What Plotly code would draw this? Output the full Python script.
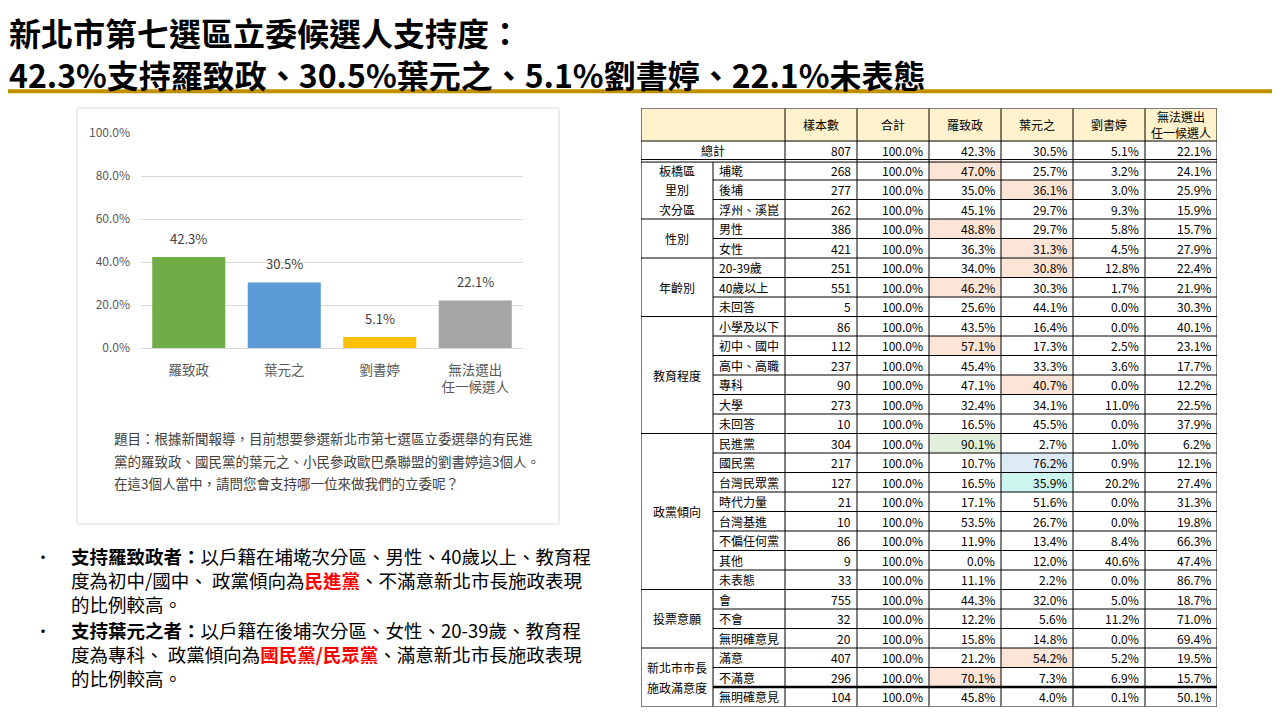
"""新北市第七選區立委候選人支持度 slide, rebuilt with Plotly."""

import plotly.graph_objects as go

# ---- data ---------------------------------------------------------------
candidates = ['羅致政', '葉元之', '劉書婷', '無法選出<br>任一候選人']
support = [42.3, 30.5, 5.1, 22.1]
y_ticks = [0, 20, 40, 60, 80, 100]

title_lines = [
    '新北市第七選區立委候選人支持度：',
    '42.3%支持羅致政、30.5%葉元之、5.1%劉書婷、22.1%未表態',
]
question_lines = [
    '題目：根據新聞報導，目前想要參選新北市第七選區立委選舉的有民進',
    '黨的羅致政、國民黨的葉元之、小民參政歐巴桑聯盟的劉書婷這3個人。',
    '在這3個人當中，請問您會支持哪一位來做我們的立委呢？',
]
RED = "<b><span style='color:#FF0000'>{}</span></b>"
bullet_lines = [
    ['<b>支持羅致政者：</b>以戶籍在埔墘次分區、男性、40歲以上、教育程',
     '度為初中/國中、 政黨傾向為' + RED.format('民進黨') + '、不滿意新北市長施政表現',
     '的比例較高。'],
    ['<b>支持葉元之者：</b>以戶籍在後埔次分區、女性、20-39歲、教育程',
     '度為專科、 政黨傾向為' + RED.format('國民黨/民眾黨') + '、滿意新北市長施政表現',
     '的比例較高。'],
]

table_header = ['樣本數', '合計', '羅致政', '葉元之', '劉書婷', '無法選出<br>任一候選人']
total_label = '總計'
total_n = 807
row_total = 100.0

groups = [
    ('板橋區<br>里別<br>次分區', 3),
    ('性別', 2),
    ('年齡別', 3),
    ('教育程度', 6),
    ('政黨傾向', 8),
    ('投票意願', 3),
    ('新北市市長<br>施政滿意度', 3),
]
sub_labels = ['埔墘', '後埔', '浮州、溪崑', '男性', '女性', '20-39歲', '40歲以上', '未回答',
              '小學及以下', '初中、國中', '高中、高職', '專科', '大學', '未回答',
              '民進黨', '國民黨', '台灣民眾黨', '時代力量', '台灣基進', '不偏任何黨', '其他', '未表態',
              '會', '不會', '無明確意見', '滿意', '不滿意', '無明確意見']
sample_n = [268, 277, 262, 386, 421, 251, 551, 5, 86, 112, 237, 90, 273, 10,
            304, 217, 127, 21, 10, 86, 9, 33, 755, 32, 20, 407, 296, 104]
luo = [47.0, 35.0, 45.1, 48.8, 36.3, 34.0, 46.2, 25.6, 43.5, 57.1, 45.4, 47.1, 32.4, 16.5,
       90.1, 10.7, 16.5, 17.1, 53.5, 11.9, 0.0, 11.1, 44.3, 12.2, 15.8, 21.2, 70.1, 45.8]
ye = [25.7, 36.1, 29.7, 29.7, 31.3, 30.8, 30.3, 44.1, 16.4, 17.3, 33.3, 40.7, 34.1, 45.5,
      2.7, 76.2, 35.9, 51.6, 26.7, 13.4, 12.0, 2.2, 32.0, 5.6, 14.8, 54.2, 7.3, 4.0]
liu = [3.2, 3.0, 9.3, 5.8, 4.5, 12.8, 1.7, 0.0, 0.0, 2.5, 3.6, 0.0, 11.0, 0.0,
       1.0, 0.9, 20.2, 0.0, 0.0, 8.4, 40.6, 0.0, 5.0, 11.2, 0.0, 5.2, 6.9, 0.1]
undecided = [24.1, 25.9, 15.9, 15.7, 27.9, 22.4, 21.9, 30.3, 40.1, 23.1, 17.7, 12.2, 22.5, 37.9,
             6.2, 12.1, 27.4, 31.3, 19.8, 66.3, 47.4, 86.7, 18.7, 71.0, 69.4, 19.5, 15.7, 50.1]

# highlighted cells: (row, column, fill)
highlights = [
    (0, 4, '#FCE4D6'), (1, 5, '#FCE4D6'), (3, 4, '#FCE4D6'), (4, 5, '#FCE4D6'),
    (5, 5, '#FCE4D6'), (6, 4, '#FCE4D6'), (9, 4, '#FCE4D6'), (11, 5, '#FCE4D6'),
    (14, 4, '#E2EFDA'), (15, 5, '#DDEBF7'), (16, 5, '#CCF5EE'),
    (25, 5, '#FCE4D6'), (26, 4, '#FCE4D6'),
]

bar_colors = ['#70AD47', '#5B9BD5', '#FFC000', '#A5A5A5']

# ---- helpers ------------------------------------------------------------
W, H = 1280, 720
OFF = 8  # the page body margin pushes the figure 8px right and down
FONT = 'Noto Sans CJK TC'


def px(x):
    # screen pixel -> paper fraction
    return (x - OFF) / W


def py(y):
    return 1 - (y - OFF) / H


fig = go.Figure()
annotations = []
shapes = []

# ---- bar chart ----------------------------------------------------------
fig.add_trace(go.Bar(
    x=candidates, y=support,
    marker=dict(color=bar_colors, line=dict(width=0)),
    width=0.765, hoverinfo='skip',
))
for c, v in zip(candidates, support):
    annotations.append(dict(
        x=c, y=v, xref='x', yref='y', text=f'{v:.1f}%', showarrow=False,
        yanchor='bottom', yshift=7, font=dict(size=13, color='#404040', family=FONT),
    ))

# chart frame
shapes.append(dict(type='rect', xref='paper', yref='paper',
                   x0=px(77), x1=px(559), y0=py(524), y1=py(108),
                   line=dict(color='#D9D9D9', width=1), layer='below'))

for i, line in enumerate(question_lines):
    annotations.append(dict(
        x=px(112), y=py(438 + i * 22.5), xref='paper', yref='paper', text=line,
        showarrow=False, xanchor='left', yanchor='middle',
        font=dict(size=13.5, color='#404040', family=FONT),
    ))

# ---- title --------------------------------------------------------------
annotations.append(dict(
    x=px(8), y=1, xref='paper', yref='paper',
    text='<br>'.join(f'<b>{t}</b>' for t in title_lines),
    showarrow=False, xanchor='left', yanchor='top', align='left', borderpad=0,
    font=dict(size=32, color='#000000', family=FONT),
))
shapes.append(dict(type='line', xref='paper', yref='paper',
                   x0=px(8), x1=px(1277), y0=py(91.3), y1=py(91.3),
                   line=dict(color='#BF9000', width=4)))

# ---- bullets ------------------------------------------------------------
for b, lines in enumerate(bullet_lines):
    first = 556 + b * 74
    annotations.append(dict(
        x=px(43), y=py(first), xref='paper', yref='paper', text='•', showarrow=False,
        xanchor='center', yanchor='middle', font=dict(size=16, color='#000000', family=FONT),
    ))
    annotations.append(dict(
        x=px(70), y=py(first + 24), xref='paper', yref='paper', text='<br>'.join(lines),
        showarrow=False, xanchor='left', yanchor='middle', align='left', borderpad=0,
        font=dict(size=18.5, color='#000000', family=FONT),
    ))

# ---- table (own axes: x = column index, y = row index) -----------------
HDR = 32.5 / 19.5
n_rows = len(sub_labels)
tfont = dict(size=12, color='#000000', family=FONT)


def cell(x0, x1, y0, y1, fill):
    shapes.append(dict(type='rect', xref='x2', yref='y2', x0=x0, x1=x1, y0=y0, y1=y1,
                       fillcolor=fill, line=dict(width=0), layer='below'))


def hline(y, x0, x1, width=1):
    shapes.append(dict(type='line', xref='x2', yref='y2', x0=x0, x1=x1, y0=y, y1=y,
                       line=dict(color='#000000', width=width)))


def vline(x, y0, y1, width=1):
    shapes.append(dict(type='line', xref='x2', yref='y2', x0=x, x1=x, y0=y0, y1=y1,
                       line=dict(color='#000000', width=width)))


def txt(x, y, s, anchor='center'):
    annotations.append(dict(x=x, y=y, xref='x2', yref='y2', text=s, showarrow=False,
                            xanchor=anchor, yanchor='middle', font=tfont))


cell(0, 8, -HDR, 0, '#FFF2CC')
for r, c, col in highlights:
    cell(c, c + 1, r + 1, r + 2, col)

# header
for j, h in enumerate(table_header):
    txt(j + 2.5, -HDR / 2, h)

# total row
txt(1, 0.5, total_label)
total_vals = [f'{total_n}', f'{row_total:.1f}%'] + [f'{v:.1f}%' for v in support]
for j, s in enumerate(total_vals):
    txt(j + 3 - 0.05, 0.5, s, 'right')

# body
columns = [luo, ye, liu, undecided]
for i in range(n_rows):
    y = i + 1.5
    txt(1.06, y, sub_labels[i], 'left')
    vals = [f'{sample_n[i]}', f'{row_total:.1f}%'] + [f'{col[i]:.1f}%' for col in columns]
    for j, s in enumerate(vals):
        txt(j + 3 - 0.05, y, s, 'right')

# group labels and grid
group_breaks = set()
start = 0
for label, count in groups:
    parts = label.split('<br>')
    centre = start + 1 + count / 2
    for k, p in enumerate(parts):
        txt(0.5, centre + (k - (len(parts) - 1) / 2), p)
    start += count
    group_breaks.add(start)

for k in range(1, n_rows):
    if k in group_breaks:
        hline(k + 1, 0, 8)
    elif k == n_rows - 1:
        hline(k + 1, 1, 8, width=2.5)
    else:
        hline(k + 1, 1, 8)

hline(0, 0, 8)
hline(0.95, 0, 8)
hline(1.08, 0, 8)
vline(1, 1.08, n_rows + 1)
for j in range(2, 8):
    vline(j, -HDR, n_rows + 1)
shapes.append(dict(type='rect', xref='x2', yref='y2', x0=0, x1=8, y0=-HDR, y1=n_rows + 1,
                   line=dict(color='#000000', width=1)))

# ---- layout -------------------------------------------------------------
fig.update_layout(
    width=W, height=H,
    margin=dict(l=0, r=0, t=0, b=0, pad=0, autoexpand=False),
    paper_bgcolor='white', plot_bgcolor='white',
    showlegend=False,
    font=dict(family=FONT),
    xaxis=dict(
        domain=[px(141), px(523)], showgrid=False, showline=False, ticks='',
        tickfont=dict(size=13.5, color='#595959', family=FONT), ticklabelstandoff=12,
        fixedrange=True, automargin=False,
    ),
    yaxis=dict(
        domain=[py(348), py(133)], range=[0, 100], tickvals=y_ticks,
        ticktext=[f'{v:.1f}%' for v in y_ticks],
        showgrid=True, gridcolor='#D9D9D9', gridwidth=1,
        zeroline=True, zerolinecolor='#D9D9D9', zerolinewidth=1, showline=False, ticks='',
        tickfont=dict(size=12, color='#595959', family=FONT), ticklabelstandoff=10,
        fixedrange=True, automargin=False,
    ),
    xaxis2=dict(domain=[px(641), px(1217)], range=[0, 8], visible=False, fixedrange=True,
                anchor='y2', automargin=False),
    yaxis2=dict(domain=[py(706.5), py(108.5)], range=[n_rows + 1, -HDR], visible=False,
                fixedrange=True, anchor='x2', automargin=False),
    shapes=shapes,
    annotations=annotations,
)

fig.write_html('out.html')
